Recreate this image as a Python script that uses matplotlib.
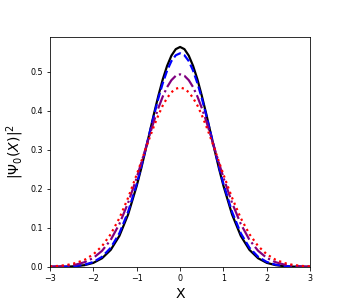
import matplotlib
matplotlib.use("Agg")
import matplotlib.pyplot as plt

# x grid (finer near the peak)
x = [-3.0, -2.8, -2.6, -2.4, -2.2, -2.0, -1.8, -1.6, -1.4, -1.2,
     -1.0, -0.9, -0.8, -0.7, -0.6, -0.5, -0.4, -0.3, -0.2, -0.1,
     0.0, 0.1, 0.2, 0.3, 0.4, 0.5, 0.6, 0.7, 0.8, 0.9, 1.0,
     1.2, 1.4, 1.6, 1.8, 2.0, 2.2, 2.4, 2.6, 2.8, 3.0]

# |Psi_0(X)|^2 curves
black = [0.0001, 0.0002, 0.0007, 0.0018, 0.0045, 0.0103, 0.0221, 0.0436, 0.0795, 0.134,
         0.208, 0.251, 0.298, 0.3456, 0.394, 0.4394, 0.481, 0.5156, 0.542, 0.5586,
         0.5642, 0.5586, 0.542, 0.5156, 0.481, 0.4394, 0.394, 0.3456, 0.298, 0.251, 0.208,
         0.134, 0.0795, 0.0436, 0.0221, 0.0103, 0.0045, 0.0018, 0.0007, 0.0002, 0.0001]
blue = [0.0001, 0.0003, 0.0009, 0.0024, 0.0057, 0.0126, 0.0258, 0.0490, 0.0863, 0.141,
        0.213, 0.2553, 0.300, 0.3452, 0.390, 0.4329, 0.471, 0.5034, 0.528, 0.5429,
        0.548, 0.5429, 0.528, 0.5034, 0.471, 0.4329, 0.390, 0.3452, 0.300, 0.2553, 0.213,
        0.141, 0.0863, 0.0490, 0.0258, 0.0126, 0.0057, 0.0024, 0.0009, 0.0003, 0.0001]
purple = [0.0005, 0.0012, 0.0028, 0.0060, 0.0121, 0.0230, 0.0412, 0.0693, 0.110, 0.164,
          0.229, 0.2654, 0.302, 0.3392, 0.375, 0.4078, 0.437, 0.4611, 0.479, 0.4902,
          0.494, 0.4902, 0.479, 0.4611, 0.437, 0.4078, 0.375, 0.3392, 0.302, 0.2654, 0.229,
          0.164, 0.110, 0.0693, 0.0412, 0.0230, 0.0121, 0.0060, 0.0028, 0.0012, 0.0005]
red = [0.0012, 0.0025, 0.0051, 0.0100, 0.0184, 0.0322, 0.0533, 0.0839, 0.125, 0.177,
       0.237, 0.2684, 0.301, 0.3321, 0.362, 0.3895, 0.414, 0.4333, 0.448, 0.457,
       0.460, 0.457, 0.448, 0.4333, 0.414, 0.3895, 0.362, 0.3321, 0.301, 0.2684, 0.237,
       0.177, 0.125, 0.0839, 0.0533, 0.0322, 0.0184, 0.0100, 0.0051, 0.0025, 0.0012]

fig = plt.figure(figsize=(345 / 72, 305 / 72), dpi=72)
ax = fig.add_axes([0.145, 0.125, 0.754, 0.754])

ax.plot(x, black, color="black", lw=2.2, ls="-")
ax.plot(x, blue, color="blue", lw=2.2, ls="--")
ax.plot(x, purple, color="purple", lw=2.2, ls="-.")
ax.plot(x, red, color="red", lw=2.2, ls=":")

ax.set_xlim(-3, 3)
ax.set_ylim(0, 0.59)
ax.set_xticks([-3, -2, -1, 0, 1, 2, 3])
ax.set_yticks([0.0, 0.1, 0.2, 0.3, 0.4, 0.5])
ax.tick_params(labelsize=8)
ax.set_xlabel("X", fontsize=14)
ax.set_ylabel(r"$|\Psi_0(X)|^2$", fontsize=14)

fig.savefig("out.png", dpi=72)
